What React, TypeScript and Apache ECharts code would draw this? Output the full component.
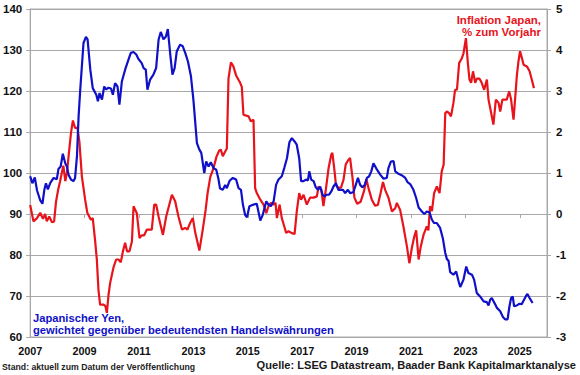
import React, { useEffect, useRef } from "react";
import * as echarts from "echarts";

// Japanese yen, trade-weighted index (left axis)
const yenDates = [
  2007.0, 2007.08, 2007.17, 2007.25, 2007.37, 2007.45, 2007.52, 2007.58, 2007.65, 2007.74, 2007.86, 2007.98,
  2008.04, 2008.12, 2008.2, 2008.29, 2008.35, 2008.41, 2008.5, 2008.59, 2008.65, 2008.72, 2008.78, 2008.84, 2008.9, 2008.96,
  2009.05, 2009.11, 2009.21, 2009.3, 2009.43, 2009.49, 2009.55, 2009.64, 2009.72, 2009.79, 2009.88, 2009.97,
  2010.04, 2010.12, 2010.21, 2010.28, 2010.37, 2010.49, 2010.61, 2010.7, 2010.8, 2010.9, 2010.98,
  2011.1, 2011.17, 2011.25, 2011.31, 2011.41, 2011.53, 2011.63, 2011.72, 2011.8, 2011.9, 2011.99,
  2012.06, 2012.15, 2012.23, 2012.31, 2012.39, 2012.51, 2012.61, 2012.7, 2012.8, 2012.91,
  2013.0, 2013.13, 2013.22, 2013.29, 2013.4, 2013.47, 2013.56, 2013.64, 2013.74, 2013.84, 2013.92, 2013.98,
  2014.08, 2014.17, 2014.23, 2014.33, 2014.45, 2014.57, 2014.66, 2014.75, 2014.82, 2014.9, 2014.97,
  2015.06, 2015.21, 2015.33, 2015.46, 2015.55, 2015.68, 2015.76, 2015.85, 2015.95,
  2016.04, 2016.13, 2016.25, 2016.34, 2016.44, 2016.53, 2016.62, 2016.72, 2016.8, 2016.89, 2016.96,
  2017.05, 2017.14, 2017.21, 2017.26, 2017.33, 2017.42, 2017.5, 2017.58, 2017.66, 2017.75, 2017.82, 2017.9, 2017.99,
  2018.07, 2018.15, 2018.24, 2018.33, 2018.43, 2018.5, 2018.58, 2018.68, 2018.76, 2018.88, 2018.97,
  2019.05, 2019.13, 2019.22, 2019.3, 2019.38, 2019.46, 2019.54, 2019.62, 2019.75, 2019.87, 2019.99,
  2020.11, 2020.17, 2020.26, 2020.36, 2020.42, 2020.54, 2020.67, 2020.79, 2020.87, 2020.97,
  2021.09, 2021.19, 2021.28, 2021.4, 2021.49, 2021.58, 2021.68, 2021.77, 2021.85, 2021.95,
  2022.07, 2022.17, 2022.26, 2022.32, 2022.38, 2022.44, 2022.56, 2022.66, 2022.75, 2022.81, 2022.93,
  2023.03, 2023.11, 2023.24, 2023.32, 2023.42, 2023.54, 2023.67, 2023.79, 2023.85, 2023.91, 2023.97,
  2024.1, 2024.16, 2024.28, 2024.38, 2024.46, 2024.55, 2024.62, 2024.68, 2024.74, 2024.79, 2024.89, 2024.99,
  2025.07, 2025.14, 2025.22, 2025.28, 2025.36, 2025.47,
];
const yenIndex = [
  99.2, 97.5, 98.9, 95.8, 93.3, 92.5, 95.9, 97.5, 96.0, 97.6, 98.8, 98.5,
  101.0, 101.6, 104.7, 102.4, 101.6, 99.6, 98.4, 98.0, 98.8, 104.1, 113.8, 120.3, 126.0, 131.7,
  133.2, 132.6, 125.2, 120.7, 119.1, 117.5, 119.5, 117.9, 121.1, 120.4, 120.8, 120.6,
  119.1, 121.9, 121.1, 116.7, 122.3, 125.2, 127.6, 129.3, 129.5, 128.9, 127.8,
  126.8, 125.6, 125.2, 120.3, 122.8, 124.0, 125.6, 132.5, 134.4, 132.6, 133.3,
  135.1, 128.9, 124.0, 125.6, 129.7, 131.3, 130.9, 129.3, 127.2, 123.6,
  117.9, 107.3, 105.7, 104.9, 100.0, 102.8, 101.6, 102.6, 101.2, 100.8, 98.6, 96.2,
  95.9, 97.1, 96.3, 98.1, 98.8, 98.4, 96.3, 95.9, 92.3, 89.8, 89.2,
  91.9, 92.3, 92.5, 88.4, 89.8, 93.1, 92.3, 91.9, 93.1,
  97.1, 98.4, 99.2, 101.2, 103.6, 107.5, 108.5, 107.7, 106.9, 103.6, 98.0,
  98.0, 98.4, 98.2, 100.4, 98.4, 98.0, 96.5, 95.9, 96.7, 94.7, 94.3, 94.7, 94.7,
  95.5, 96.7, 97.5, 95.9, 95.9, 95.9, 95.1, 95.9, 95.1, 95.3, 97.1,
  98.8, 97.1, 96.5, 97.1, 98.8, 99.2, 100.4, 102.4, 100.8, 99.6, 98.6,
  98.8, 101.2, 102.8, 102.9, 100.4, 99.8, 99.4, 98.8, 97.8, 97.3,
  95.9, 93.9, 91.6, 90.6, 90.0, 90.6, 90.4, 88.6, 87.8, 87.8,
  86.6, 84.1, 80.5, 79.0, 78.6, 75.8, 75.2, 76.0, 73.6, 72.2, 74.0,
  77.2, 75.6, 75.2, 74.0, 70.7, 69.9, 68.7, 68.5, 67.7, 69.1, 69.5,
  67.9, 67.1, 66.3, 64.9, 64.3, 64.3, 67.5, 69.5, 69.9, 67.5, 67.7, 68.1,
  68.0, 68.9, 69.9, 70.5, 69.5, 68.3,
];

// Japan CPI inflation, % y/y (right axis)
const cpiDates = [
  2007.0, 2007.12, 2007.25, 2007.37, 2007.47, 2007.55, 2007.61, 2007.7, 2007.8, 2007.88, 2007.95,
  2008.03, 2008.1, 2008.16, 2008.22, 2008.29, 2008.35, 2008.41, 2008.5, 2008.57, 2008.65, 2008.74, 2008.81, 2008.9,
  2009.02, 2009.1, 2009.23, 2009.3, 2009.39, 2009.45, 2009.51, 2009.57, 2009.7, 2009.76, 2009.82, 2009.88, 2009.94,
  2010.06, 2010.16, 2010.25, 2010.33, 2010.41, 2010.49, 2010.56, 2010.65, 2010.74, 2010.8, 2010.92,
  2011.02, 2011.1, 2011.19, 2011.29, 2011.47, 2011.56, 2011.63, 2011.72, 2011.88,
  2012.0, 2012.21, 2012.33, 2012.45, 2012.58, 2012.7, 2012.78, 2012.88, 2012.98,
  2013.07, 2013.22, 2013.34, 2013.45, 2013.52, 2013.62, 2013.74, 2013.85, 2013.95,
  2014.01, 2014.08, 2014.15, 2014.23, 2014.29, 2014.38, 2014.47, 2014.57, 2014.72, 2014.78, 2014.84,
  2015.03, 2015.11, 2015.21, 2015.27, 2015.33, 2015.46, 2015.58, 2015.68, 2015.76, 2015.85, 2015.95,
  2016.02, 2016.07, 2016.17, 2016.25, 2016.34, 2016.41, 2016.5, 2016.6, 2016.72, 2016.8, 2016.89, 2016.96,
  2017.05, 2017.17, 2017.29, 2017.42, 2017.54, 2017.6, 2017.7, 2017.78, 2017.87, 2017.97,
  2018.07, 2018.11, 2018.19, 2018.24, 2018.33, 2018.43, 2018.52, 2018.6, 2018.68, 2018.76, 2018.85, 2018.92,
  2019.02, 2019.15, 2019.27, 2019.36, 2019.45, 2019.56, 2019.68, 2019.78, 2019.88, 2019.97,
  2020.05, 2020.17, 2020.3, 2020.42, 2020.48, 2020.6, 2020.72, 2020.85, 2020.94,
  2021.03, 2021.12, 2021.19, 2021.28, 2021.36, 2021.46, 2021.58, 2021.64, 2021.7, 2021.77, 2021.85, 2021.95,
  2022.05, 2022.13, 2022.2, 2022.26, 2022.32, 2022.4, 2022.47, 2022.56, 2022.62, 2022.69, 2022.77, 2022.87, 2022.93,
  2023.02, 2023.09, 2023.15, 2023.21, 2023.28, 2023.36, 2023.42, 2023.52, 2023.6, 2023.69, 2023.79, 2023.85, 2023.91,
  2024.03, 2024.12, 2024.22, 2024.28, 2024.36, 2024.52, 2024.61, 2024.68, 2024.77, 2024.89, 2024.95,
  2025.01, 2025.08, 2025.14, 2025.26, 2025.36, 2025.44, 2025.52,
];
const cpiYoY = [
  0.22, -0.18, -0.1, 0.03, -0.12, 0.0, -0.18, -0.06, -0.2, -0.18, 0.3,
  0.6, 0.8, 1.0, 1.18, 0.8, 1.0, 1.4, 1.98, 2.28, 2.1, 2.1, 1.76, 0.92,
  0.35, 0.03, -0.14, -0.1, -0.67, -1.11, -1.85, -2.21, -2.21, -2.24, -2.41, -1.97, -1.68,
  -1.31, -1.11, -1.11, -1.18, -0.91, -0.7, -0.91, -0.91, -0.67, 0.19, 0.02,
  -0.59, -0.52, -0.52, -0.38, -0.38, 0.23, 0.23, -0.06, -0.51,
  -0.06, 0.47, 0.31, -0.06, -0.38, -0.34, -0.38, -0.22, -0.1,
  -0.46, -0.89, -0.4, 0.1, 0.5, 0.9, 1.12, 1.4, 1.55,
  1.57, 1.41, 1.5, 1.6, 3.3, 3.7, 3.6, 3.38, 3.2, 3.1, 2.42,
  2.38, 2.26, 2.3, 0.63, 0.51, 0.35, 0.23, 0.02, 0.19, 0.27, 0.23,
  0.27, -0.1, 0.23, -0.1, -0.3, -0.46, -0.42, -0.46, -0.49, 0.06, 0.51, 0.35,
  0.47, 0.23, 0.4, 0.4, 0.43, 0.67, 0.6, 0.19, 0.6, 1.12,
  1.45, 1.49, 1.04, 0.71, 0.63, 0.65, 0.84, 1.21, 1.3, 1.37, 0.88, 0.4,
  0.25, 0.3, 0.55, 0.85, 0.6, 0.35, 0.2, 0.22, 0.5, 0.78,
  0.59, 0.4, 0.06, 0.14, 0.27, 0.1, -0.3, -0.79, -1.2,
  -0.83, -0.55, -0.4, -1.11, -0.79, -0.51, -0.3, -0.4, 0.19, 0.07, 0.51, 0.67,
  0.51, 1.04, 1.2, 2.46, 2.5, 2.46, 2.38, 2.71, 3.03, 3.03, 3.68, 3.8, 3.92,
  4.29, 3.68, 3.28, 3.2, 3.48, 3.2, 3.3, 3.3, 3.2, 3.03, 3.28, 2.79, 2.59,
  2.18, 2.79, 2.71, 2.5, 2.79, 2.79, 2.99, 2.79, 2.3, 3.36, 3.72,
  3.97, 3.8, 3.64, 3.6, 3.48, 3.28, 3.07,
];

const yenLabel = "Japanischer Yen,\ngewichtet gegenüber bedeutendsten Handelswährungen";
const cpiLabel = "Inflation Japan,\n% zum Vorjahr";
const standText = "Stand: aktuell zum Datum der Veröffentlichung";
const sourceText = "Quelle: LSEG Datastream, Baader Bank Kapitalmarktanalyse";

const FONT = "'Liberation Sans', Arial, Helvetica, sans-serif";
const BLUE = "#1010c8";
const RED = "#e8141c";
const GRID = "#a8a8a8";

export default function App() {
  const ref = useRef<HTMLDivElement>(null);
  useEffect(() => {
    if (!ref.current) return;
    const chart = echarts.init(ref.current, undefined, { renderer: "svg" });
    const yen = yenDates.map((d, i) => [d, yenIndex[i]]);
    const cpi = cpiDates.map((d, i) => [d, cpiYoY[i]]);
    const axisLabel = { color: "#111", fontFamily: FONT, fontWeight: "bold" as const, fontSize: 11.5 };
    chart.setOption({
      animation: false,
      backgroundColor: "#ffffff",
      grid: { left: 30, right: 33, top: 9, bottom: 38, show: true, borderColor: GRID, borderWidth: 1, backgroundColor: "transparent" },
      xAxis: {
        type: "value",
        min: 2007,
        max: 2026,
        interval: 2,
        axisLine: { show: true, lineStyle: { color: GRID, width: 1 } },
        axisTick: { show: true, length: 4, inside: false, lineStyle: { color: GRID } },
        splitLine: { show: false },
        axisLabel: { ...axisLabel, fontSize: 10.8, margin: 8, showMaxLabel: false, formatter: (v: number) => String(v) },
      },
      yAxis: [
        {
          type: "value",
          min: 60,
          max: 140,
          interval: 10,
          axisLine: { show: true, lineStyle: { color: GRID } },
          axisTick: { show: true, length: 4, lineStyle: { color: GRID } },
          splitLine: { show: true, lineStyle: { color: GRID, width: 1 } },
          axisLabel: { ...axisLabel, margin: 8 },
        },
        {
          type: "value",
          position: "right",
          min: -3,
          max: 5,
          interval: 1,
          axisLine: { show: true, lineStyle: { color: GRID } },
          axisTick: { show: true, length: 4, lineStyle: { color: GRID } },
          splitLine: { show: false },
          axisLabel: { ...axisLabel, margin: 9 },
        },
      ],
      series: [
        {
          type: "line",
          name: "Inflation",
          yAxisIndex: 1,
          data: cpi,
          showSymbol: false,
          lineStyle: { color: RED, width: 2.2 },
          itemStyle: { color: RED },
          z: 2,
        },
        {
          type: "line",
          name: "Yen",
          yAxisIndex: 0,
          data: yen,
          showSymbol: false,
          lineStyle: { color: BLUE, width: 2.2 },
          itemStyle: { color: BLUE },
          z: 3,
        },
      ],
      graphic: [
        {
          type: "text",
          x: 541,
          y: 13.3,
          z: 10,
          style: { text: cpiLabel, fill: RED, font: `bold 11.5px ${FONT}`, align: "right", verticalAlign: "top", lineHeight: 12.5 },
        },
        {
          type: "text",
          x: 33,
          y: 311.3,
          z: 10,
          style: { text: yenLabel, fill: BLUE, font: `bold 11.2px ${FONT}`, align: "left", verticalAlign: "top", lineHeight: 12.5 },
        },
        {
          type: "text",
          x: 2,
          y: 367,
          style: { text: standText, fill: "#222", font: `bold 8.7px ${FONT}`, align: "left", verticalAlign: "middle" },
        },
        {
          type: "text",
          x: 576,
          y: 365,
          style: { text: sourceText, fill: "#1a1a1a", font: `bold 11.1px ${FONT}`, align: "right", verticalAlign: "middle" },
        },
      ],
    });
    return () => chart.dispose();
  }, []);
  return <div ref={ref} style={{ position: "fixed", left: 0, top: 0, width: 580, height: 375, background: "#fff" }} />;
}
